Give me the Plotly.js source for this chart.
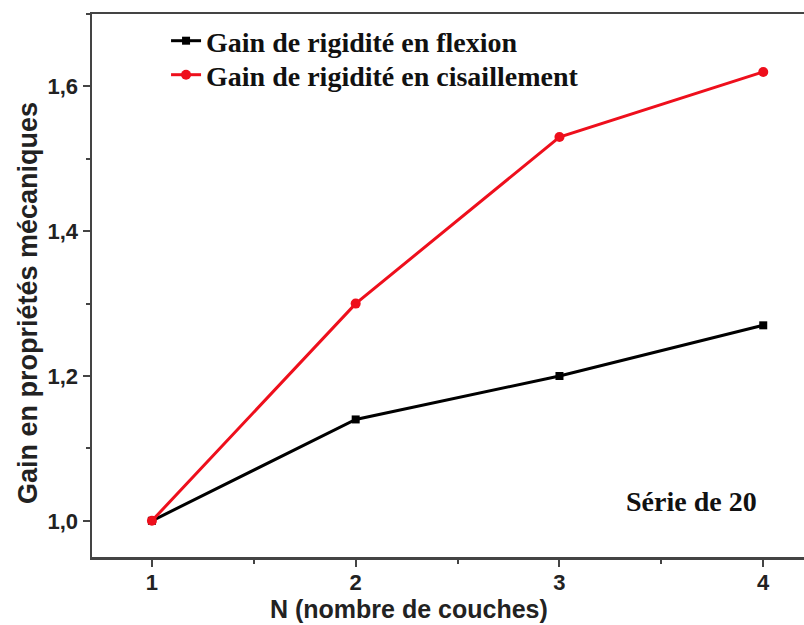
<!DOCTYPE html>
<html><head><meta charset="utf-8">
<script src="https://cdn.plot.ly/plotly-3.0.1.min.js"></script>
<style>html,body{margin:0;padding:0;background:#fff}</style>
</head><body>
<div id="chart" style="width:804px;height:625px"></div>
<script>
const couches = [1, 2, 3, 4];
const flexion = [1.0, 1.14, 1.2, 1.27];
const cisaillement = [1.0, 1.3, 1.53, 1.62];
const nomFlexion = 'Gain de rigidité en flexion';
const nomCisaillement = 'Gain de rigidité en cisaillement';
const yTicks = [1.0, 1.2, 1.4, 1.6];
const xTicks = [1, 2, 3, 4];

const traces = [
  {x: couches, y: flexion, name: nomFlexion, mode: 'lines+markers', type: 'scatter', legend: 'legend',
   line: {color: '#000', width: 3}, marker: {symbol: 'square', size: 8, color: '#000'}},
  {x: couches, y: cisaillement, name: nomCisaillement, mode: 'lines+markers', type: 'scatter', legend: 'legend2',
   line: {color: '#ee0f1c', width: 3}, marker: {symbol: 'circle', size: 10, color: '#ee0f1c'}}
];
const axisFont = {family: 'Liberation Sans, Arial, sans-serif', size: 22, color: '#222', weight: 'bold'};
const titleFont = {family: 'Liberation Sans, Arial, sans-serif', size: 25, color: '#222', weight: 'bold'};
const legendFont = {family: 'Liberation Serif, Times New Roman, serif', size: 28, color: '#111', weight: 'bold'};
const legX = 0.104;
const layout = {
  width: 804, height: 625,
  margin: {l: 92, r: 0, t: 14, b: 68},
  paper_bgcolor: '#fff', plot_bgcolor: '#fff',
  separators: ', ',
  showlegend: true,
  legend: {x: legX, y: (557 - 41) / 543, xanchor: 'left', yanchor: 'middle', bgcolor: 'rgba(0,0,0,0)', font: legendFont},
  legend2: {x: legX, y: (557 - 75) / 543, xanchor: 'left', yanchor: 'middle', bgcolor: 'rgba(0,0,0,0)', font: legendFont},
  xaxis: {range: [0.706, 4.2], tickvals: xTicks, ticktext: xTicks.map(String),
    showgrid: false, zeroline: false, showline: true, linecolor: '#444', linewidth: 2.5,
    mirror: true, ticks: 'outside', ticklen: 7, tickwidth: 2, tickcolor: '#444', ticklabelstandoff: -3,
    minor: {dtick: 0.5, tick0: 0.5, ticks: 'outside', ticklen: 4, tickwidth: 2, tickcolor: '#444'},
    tickfont: axisFont, title: {text: ''}},
  yaxis: {range: [0.95, 1.7], tickvals: yTicks, tickformat: '.1f',
    showgrid: false, zeroline: false, showline: true, linecolor: '#444', linewidth: 2.5,
    ticks: 'outside', ticklen: 7, tickwidth: 2, tickcolor: '#444',
    minor: {dtick: 0.1, tick0: 0.1, ticks: 'outside', ticklen: 4, tickwidth: 2, tickcolor: '#444'},
    tickfont: axisFont, title: {text: ''}},
  annotations: [
    {xref: 'x', yref: 'y', x: 3.65, y: 1.026, text: 'Série de 20', showarrow: false,
     font: {family: 'Liberation Serif, Times New Roman, serif', size: 28, color: '#111', weight: 'bold'}},
    {xref: 'paper', yref: 'paper', x: (409 - 92) / 712, y: (557 - 624) / 543, yanchor: 'bottom', borderpad: 0,
     text: 'N (nombre de couches)', showarrow: false, font: titleFont},
    {xref: 'paper', yref: 'paper', x: (28 - 92) / 712, y: (557 - 303) / 543, xanchor: 'center', yanchor: 'middle',
     textangle: -90, text: 'Gain en propriétés mécaniques', showarrow: false,
     font: {family: 'Liberation Sans, Arial, sans-serif', size: 27, color: '#222', weight: 'bold'}}
  ]
};
Plotly.newPlot('chart', traces, layout, {displayModeBar: false, staticPlot: true});
</script>
</body></html>
